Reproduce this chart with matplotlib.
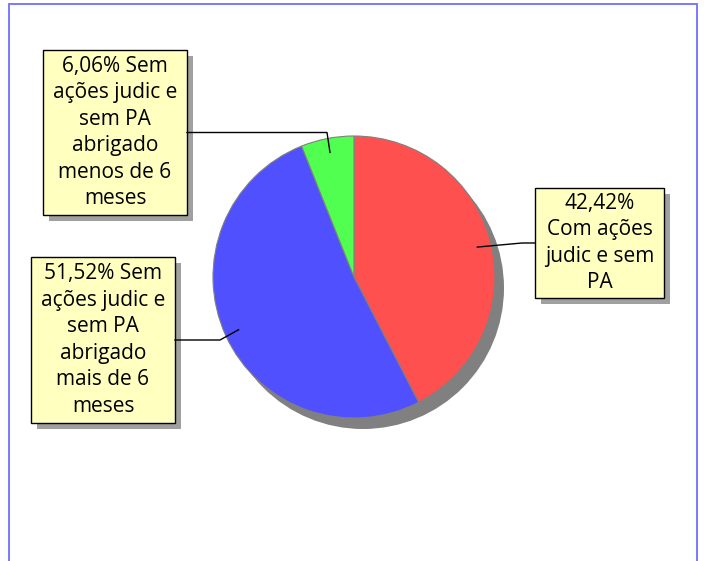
import numpy as np
import matplotlib.pyplot as plt
from matplotlib.patches import Circle, Rectangle

W, H = 704, 561

values = [42.42, 51.52, 6.06]
colors = ["#FF5050", "#5050FF", "#50FF50"]
labels = [
    "42,42%\nCom ações\njudic e sem\nPA",
    "51,52% Sem\nações judic e\nsem PA\nabrigado\nmais de 6\nmeses",
    "6,06% Sem\nações judic e\nsem PA\nabrigado\nmenos de 6\nmeses",
]

# label boxes in pixel coords (x0, y0, x1, y1), and the x of the leader elbow
boxes = [(535, 188, 664, 298), (31, 257, 175, 423), (43, 50, 187, 215)]
elbows_x = [522, 220, 327]

center_px = (354, 277)
radius = 141


def fy(py):
    return H - py


fig = plt.figure(figsize=(W / 100, H / 100), dpi=100)
ax = fig.add_axes([0, 0, 1, 1])

cx, cy = center_px[0], fy(center_px[1])

# shadow behind the pie
ax.add_patch(Circle((cx + 9, cy - 11), radius, facecolor="#808080", edgecolor="none", zorder=0.5))

wedges, _ = ax.pie(
    values,
    colors=colors,
    startangle=90,
    counterclock=False,
    center=(cx, cy),
    radius=radius,
    frame=True,
    wedgeprops=dict(edgecolor="#808080", linewidth=0.8),
)

for w, text, box, ex in zip(wedges, labels, boxes, elbows_x):
    x0, y0, x1, y1 = box
    # box shadow
    ax.add_patch(Rectangle((x0 + 6, fy(y1) - 6), x1 - x0, y1 - y0,
                           facecolor="#A0A0A0", edgecolor="none", zorder=3))
    ax.add_patch(Rectangle((x0, fy(y1)), x1 - x0, y1 - y0,
                           facecolor="#FFFFC0", edgecolor="black", linewidth=1.0, zorder=4))
    ax.text((x0 + x1) / 2, fy((y0 + y1) / 2), text, ha="center", va="center",
            multialignment="center", fontsize=15, family="Open Sans",
            linespacing=1.34, zorder=5)

    # leader line: from wedge middle to elbow, then flat to the box edge
    mid = np.deg2rad((w.theta1 + w.theta2) / 2)
    ax_x = cx + 0.9 * radius * np.cos(mid)
    ax_y = cy + 0.9 * radius * np.sin(mid)
    ly = fy((y0 + y1) / 2)
    edge_x = x0 if ex < x0 else x1
    ax.plot([ax_x, ex, edge_x], [ax_y, ly, ly], color="black", linewidth=1.0, zorder=6)

# outer frame
fig.patches.append(Rectangle((8.5 / W, -0.05), (697 - 8.5) / W, (H - 6 + 30) / H,
                             transform=fig.transFigure, facecolor="none",
                             edgecolor="#7070FF", linewidth=1.3))

ax.set_xlim(0, W)
ax.set_ylim(0, H)
ax.set_axis_off()

fig.savefig("out.png", dpi=100)
